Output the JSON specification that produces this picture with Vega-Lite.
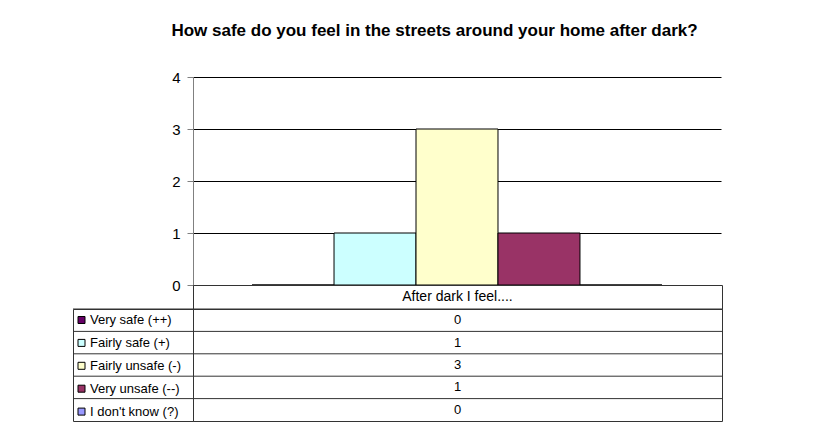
{
  "$schema": "https://vega.github.io/schema/vega-lite/v6.json",
  "padding": {"left": 72, "top": 22, "right": 5, "bottom": 5},
  "title": {"text": "How safe do you feel in the streets around your home after dark?", "font": "Liberation Sans", "fontSize": 17, "fontWeight": "bold", "color": "#000", "anchor": "middle", "dx": 37, "offset": 30},
  "columns": 2,
  "spacing": 0,
  "bounds": "flush",
  "align": "each",
  "config": {"font": "Liberation Sans", "view": {"stroke": null}},
  "datasets": {
    "responses": [
      {"response": "Very safe (++)", "count": 0},
      {"response": "Fairly safe (+)", "count": 1},
      {"response": "Fairly unsafe (-)", "count": 3},
      {"response": "Very unsafe (--)", "count": 1},
      {"response": "I don't know (?)", "count": 0}
    ],
    "header": [{"label": "After dark I feel...."}]
  },
  "concat": [
    {"width": 120, "height": 208, "data": {"values": []}, "mark": "point", "encoding": {}},
    {
      "width": 528, "height": 208,
      "data": {"name": "responses"},
      "mark": {"type": "bar", "stroke": "#000", "strokeWidth": 1},
      "encoding": {
        "x": {"field": "response", "type": "nominal", "sort": null,
              "scale": {"domain": ["Very safe (++)", "Fairly safe (+)", "Fairly unsafe (-)", "Very unsafe (--)", "I don't know (?)"], "paddingInner": 0, "paddingOuter": 0.72},
              "axis": null},
        "y": {"field": "count", "type": "quantitative", "scale": {"domain": [0, 4]},
              "axis": {"values": [0, 1, 2, 3, 4], "title": null, "grid": true, "gridColor": "#000", "gridOpacity": 1,
                       "domainColor": "#808080", "tickColor": "#808080", "tickSize": 6,
                       "labelFontSize": 15, "labelColor": "#000", "labelPadding": 7, "labelFont": "Liberation Sans"}},
        "color": {"field": "response", "type": "nominal",
                  "scale": {"domain": ["Very safe (++)", "Fairly safe (+)", "Fairly unsafe (-)", "Very unsafe (--)", "I don't know (?)"],
                            "range": ["#660066", "#CCFFFF", "#FFFFCC", "#993366", "#9999FF"]},
                  "legend": {"title": null, "orient": "none", "legendX": 2, "legendY": 236.5, "symbolType": "square", "symbolSize": 49,
                             "symbolStrokeColor": "#000", "symbolStrokeWidth": 1, "symbolOpacity": 1, "labelFontSize": 13, "labelColor": "#000",
                             "labelOffset": 2, "rowPadding": 8.9, "padding": 0, "labelFont": "Liberation Sans"}}
      }
    },
    {"width": 120, "height": 24, "data": {"values": []}, "mark": "point", "encoding": {}},
    {
      "width": 529, "height": 24,
      "view": {"stroke": "#333"},
      "data": {"name": "header"},
      "mark": {"type": "text", "fontSize": 14, "color": "#000", "font": "Liberation Sans"},
      "encoding": {"text": {"field": "label"}}
    },
    {
      "width": 120, "height": 112,
      "view": {"stroke": "#333"},
      "data": {"name": "responses"},
      "mark": {"type": "rule", "color": "#333"},
      "encoding": {"y": {"field": "response", "type": "nominal", "sort": null, "bandPosition": 0,
                         "scale": {"domain": ["Very safe (++)", "Fairly safe (+)", "Fairly unsafe (-)", "Very unsafe (--)", "I don't know (?)"]},
                         "axis": null}}
    },
    {
      "width": 529, "height": 112,
      "view": {"stroke": "#333"},
      "data": {"name": "responses"},
      "layer": [
        {"mark": {"type": "rule", "color": "#333"},
         "encoding": {"y": {"field": "response", "type": "nominal", "sort": null, "bandPosition": 0,
                            "scale": {"domain": ["Very safe (++)", "Fairly safe (+)", "Fairly unsafe (-)", "Very unsafe (--)", "I don't know (?)"]},
                            "axis": null}}},
        {"mark": {"type": "text", "fontSize": 13, "color": "#000", "font": "Liberation Sans"},
         "encoding": {"y": {"field": "response", "type": "nominal", "sort": null, "axis": null},
                      "text": {"field": "count", "type": "quantitative"}}}
      ]
    }
  ]
}
